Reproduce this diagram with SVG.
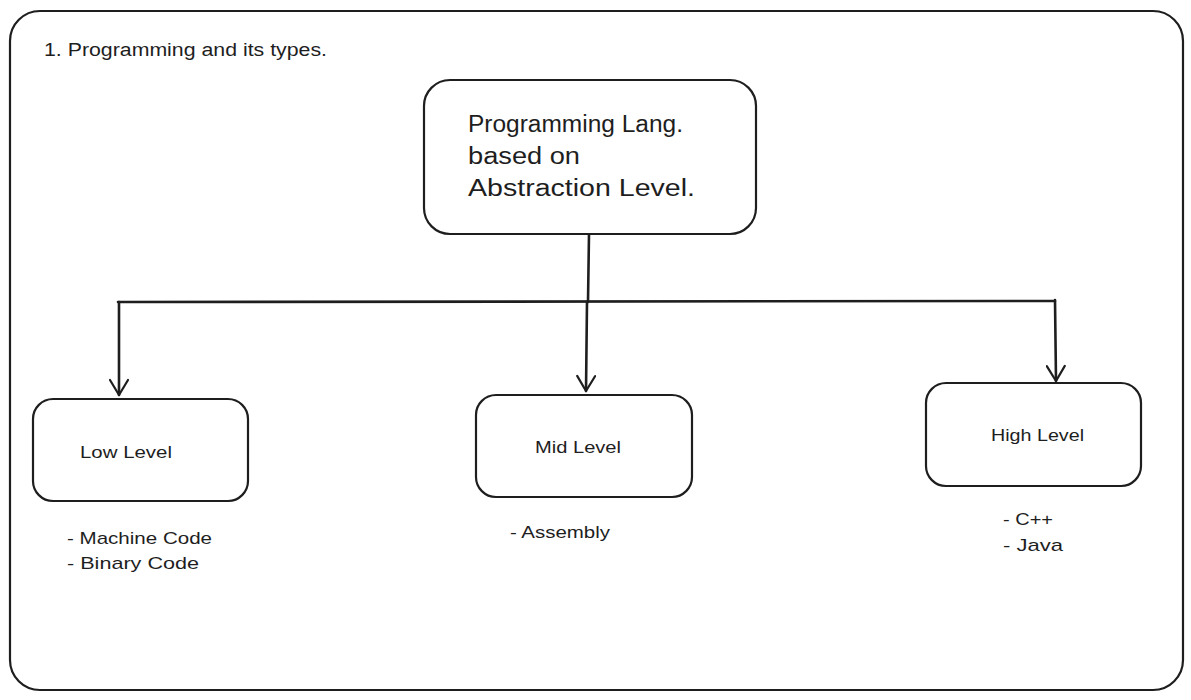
<svg xmlns="http://www.w3.org/2000/svg" width="1191" height="700" viewBox="0 0 1191 700">
<defs>
<marker id="arr" viewBox="0 0 20 20" refX="18" refY="10" markerWidth="20" markerHeight="20" markerUnits="userSpaceOnUse" orient="auto">
<path d="M3,1 L18,10 L3,19" fill="none" stroke="#1e1e1e" stroke-width="2.2" stroke-linecap="round" stroke-linejoin="round"/>
</marker>
</defs>
<style>
.box{fill:#ffffff;stroke:#1e1e1e;stroke-width:2.2}
.ln{fill:none;stroke:#1e1e1e;stroke-width:2.6;stroke-linecap:round}
.t{font-family:"Liberation Sans","Open Sans",sans-serif;fill:#1e1e1e}
</style>
<rect width="1191" height="700" fill="#ffffff"/>
<g id="frame">
<rect class="box" x="10" y="11" width="1173" height="679" rx="30"/>
<text class="t" x="44" y="56" font-size="18" textLength="283" lengthAdjust="spacingAndGlyphs">1. Programming and its types.</text>
</g>
<g id="connectors">
<path class="ln" d="M589,234 L588,302"/>
<path class="ln" d="M118,302 L1055,301"/>
<path class="ln" d="M119,302 L119,395" marker-end="url(#arr)"/>
<path class="ln" d="M587,302 L586,391" marker-end="url(#arr)"/>
<path class="ln" d="M1055,300 L1056,381" marker-end="url(#arr)"/>
</g>
<g id="root">
<rect class="box" x="424" y="80" width="332" height="154" rx="26"/>
<text class="t" x="468" y="132" font-size="23" textLength="215" lengthAdjust="spacingAndGlyphs">Programming Lang.</text>
<text class="t" x="468" y="164" font-size="23" textLength="112" lengthAdjust="spacingAndGlyphs">based on</text>
<text class="t" x="468" y="196" font-size="23" textLength="227" lengthAdjust="spacingAndGlyphs">Abstraction Level.</text>
</g>
<g id="low">
<rect class="box" x="33" y="399" width="215" height="102" rx="20"/>
<text class="t" x="80" y="458" font-size="17" textLength="92" lengthAdjust="spacingAndGlyphs">Low Level</text>
</g>
<g id="mid">
<rect class="box" x="476" y="395" width="216" height="102" rx="20"/>
<text class="t" x="535" y="453" font-size="17" textLength="86" lengthAdjust="spacingAndGlyphs">Mid Level</text>
</g>
<g id="high">
<rect class="box" x="926" y="383" width="215" height="103" rx="20"/>
<text class="t" x="991" y="441" font-size="17" textLength="93" lengthAdjust="spacingAndGlyphs">High Level</text>
</g>
<g id="lowList">
<text class="t" x="67" y="544" font-size="17" textLength="145" lengthAdjust="spacingAndGlyphs">- Machine Code</text>
<text class="t" x="67" y="569" font-size="17" textLength="132" lengthAdjust="spacingAndGlyphs">- Binary Code</text>
</g>
<g id="midList">
<text class="t" x="510" y="538" font-size="17" textLength="100" lengthAdjust="spacingAndGlyphs">- Assembly</text>
</g>
<g id="highList">
<text class="t" x="1003" y="525" font-size="17" textLength="50" lengthAdjust="spacingAndGlyphs">- C++</text>
<text class="t" x="1003" y="551" font-size="17" textLength="60" lengthAdjust="spacingAndGlyphs">- Java</text>
</g>
</svg>
